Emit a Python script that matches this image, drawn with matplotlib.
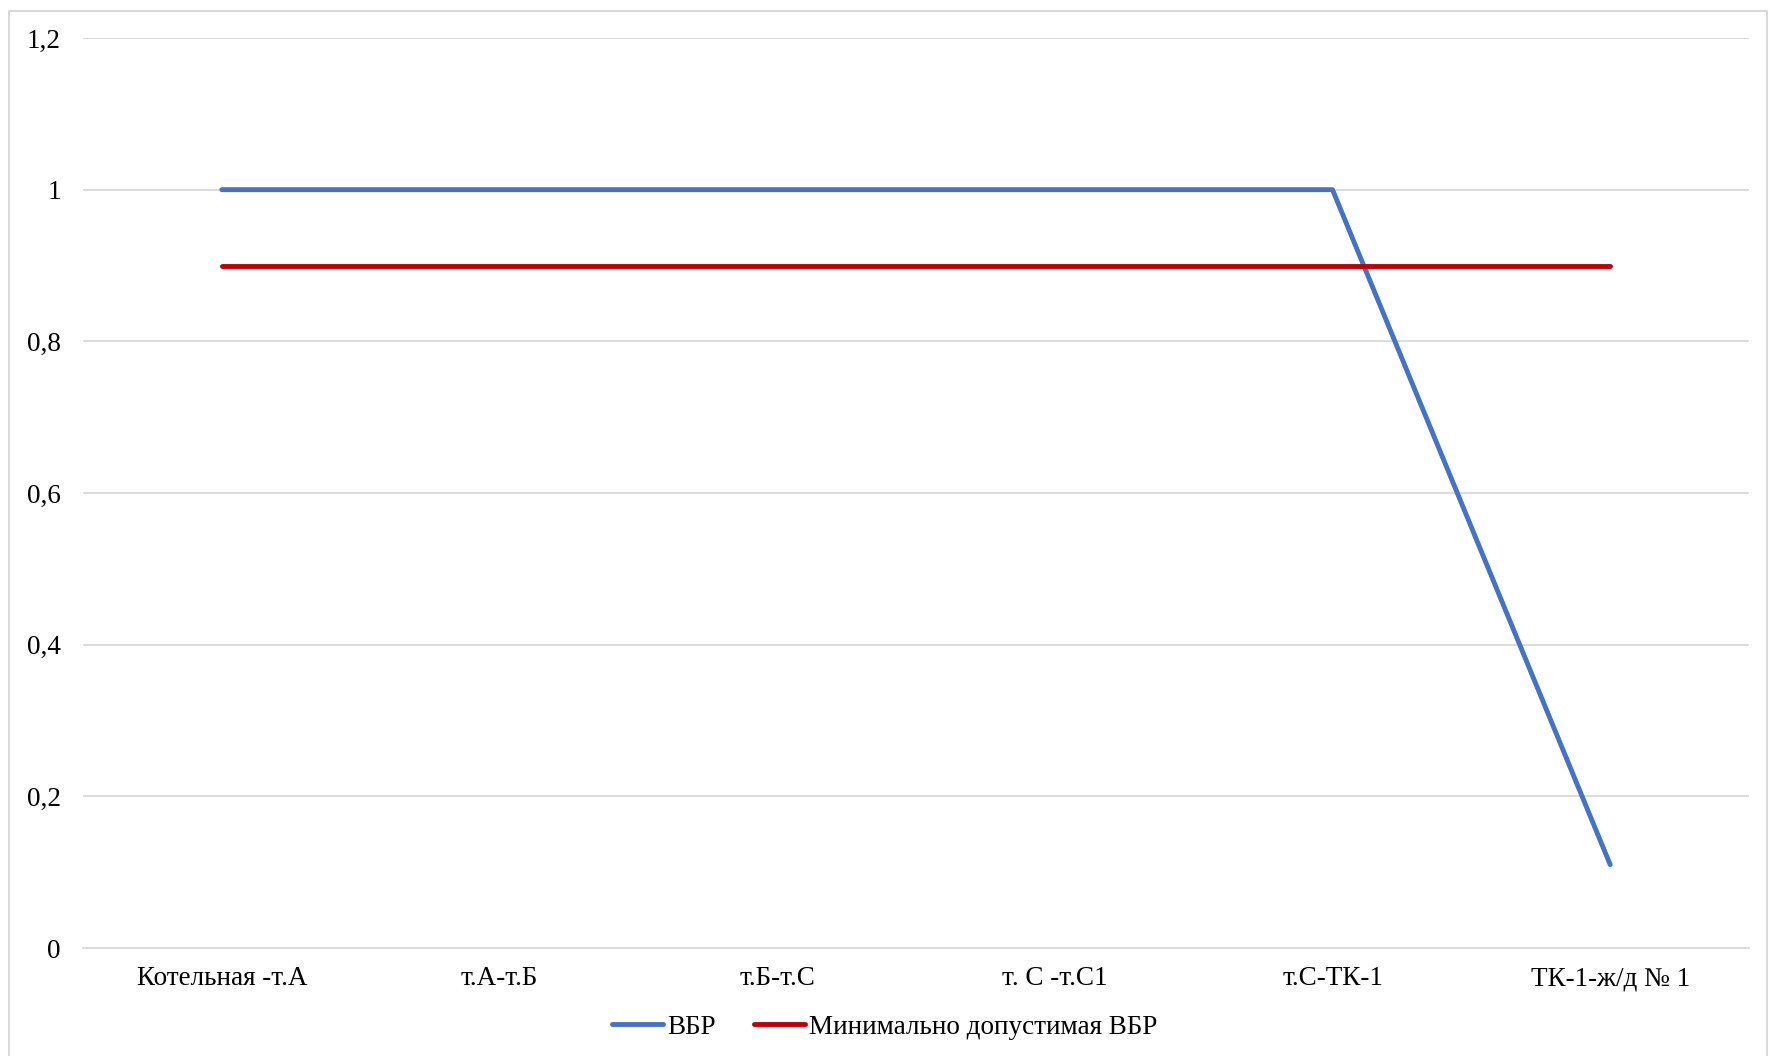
import matplotlib
matplotlib.use('Agg')
import matplotlib.pyplot as plt
from matplotlib.patches import Rectangle

plt.rcParams['font.family'] = ['Liberation Serif', 'DejaVu Serif']
plt.rcParams['font.size'] = 19.5

# Участки сети и вероятность безотказной работы
segments = ['Котельная -т.А', 'т.А-т.Б', 'т.Б-т.С', 'т. С -т.С1', 'т.С-ТК-1', 'ТК-1-ж/д № 1']
vbr = [1, 1, 1, 1, 1, 0.11]
vbr_min = [0.9, 0.9, 0.9, 0.9, 0.9, 0.9]

fig = plt.figure(figsize=(17.69, 10.56), dpi=100)
ax = fig.add_axes([83 / 1769, 1 - 948 / 1056, 1666 / 1769, 910 / 1056])

x = range(len(segments))
ax.plot(x, vbr, color='#4472c4', linewidth=3.5, solid_capstyle='round', label='ВБР')
ax.plot(x, vbr_min, color='#c00000', linewidth=3.5, solid_capstyle='round',
        label='Минимально допустимая ВБР')

ax.set_xlim(-0.5, len(segments) - 0.5)
ax.set_ylim(0, 1.2)
ax.set_yticks([0, 0.2, 0.4, 0.6, 0.8, 1, 1.2])
ax.set_yticklabels(['0', '0,2', '0,4', '0,6', '0,8', '1', '1,2'])
ax.set_xticks(list(x))
ax.set_xticklabels(segments)
ax.tick_params(axis='both', length=0, colors='#000000', labelsize=19.5)
ax.tick_params(axis='y', pad=16)
ax.tick_params(axis='x', pad=13)

ax.grid(True, axis='y', color='#d9d9d9', linewidth=1.3)
ax.set_axisbelow(True)
for side in ['top', 'right', 'left']:
    ax.spines[side].set_visible(False)
ax.spines['bottom'].set_color('#d9d9d9')
ax.spines['bottom'].set_linewidth(1.3)

fig.legend(loc='center', bbox_to_anchor=(0.5, 1 - 1027 / 1056), ncol=2, frameon=False,
           handlelength=1.9, handletextpad=0.15, columnspacing=1.4, fontsize=19.5)

# рамка области диаграммы
fig.patches.append(Rectangle((9 / 1769, -0.01), 1758 / 1769, 1 - 11 / 1056 + 0.01,
                             transform=fig.transFigure, fill=False,
                             edgecolor='#d9d9d9', linewidth=1.5))

fig.savefig('out.png', dpi=100)
